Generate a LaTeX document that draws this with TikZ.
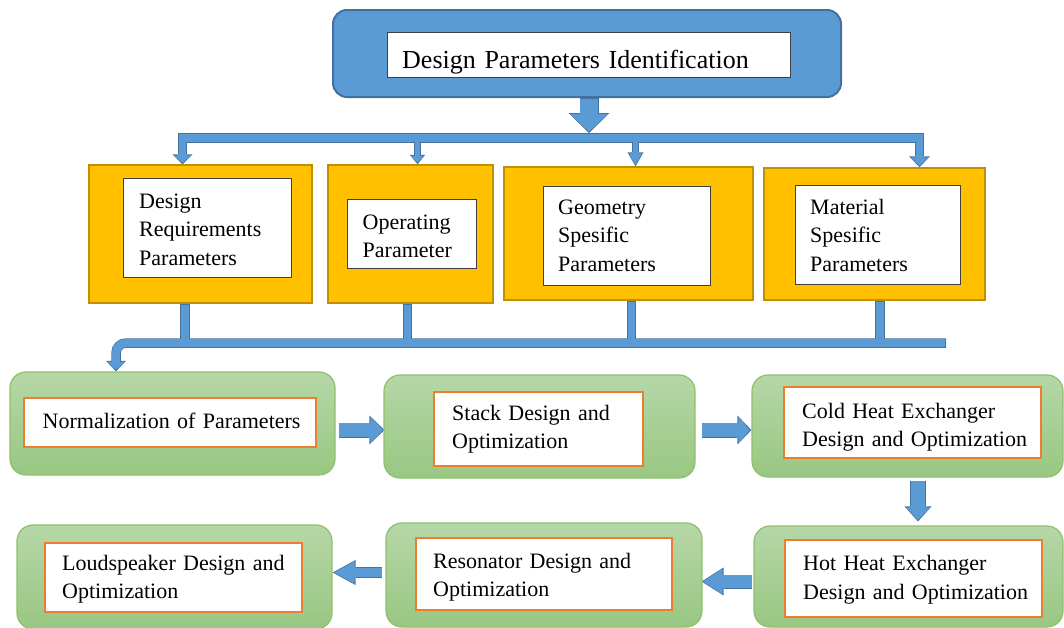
\documentclass[tikz,border=0pt]{standalone}
\usepackage{fontspec}
\setmainfont{Liberation Serif}
\usetikzlibrary{arrows.meta,calc}

\definecolor{bfill}{HTML}{5B9BD5}
\definecolor{bdr}{HTML}{41719C}
\definecolor{gold}{HTML}{FFC000}
\definecolor{golddk}{HTML}{C09000}
\definecolor{gtop}{HTML}{B6D7A8}
\definecolor{gbot}{HTML}{99C782}
\definecolor{gbdr}{HTML}{8CC16C}
\definecolor{obdr}{HTML}{ED7D31}

\newcommand\boxfont{\fontsize{22pt}{28.7pt}\selectfont}
\newcommand\titlefont{\fontsize{26pt}{30pt}\selectfont}

\pgfdeclarelayer{edge}
\pgfsetlayers{edge,main}

% block arrow: outline stroke on the lower layer, fill stroke on top
% #2 path, #3 shaft width, #4 head width, #5 head length
\newcommand\flow[5][]{%
  \pgfmathsetmacro\flowwi{#3-1.6}%
  \pgfmathsetmacro\flowhwi{#4-2.8}%
  \pgfmathsetmacro\flowhli{#5-2.5}%
  \begin{pgfonlayer}{edge}
    \draw[bdr, line width=#3pt, -{Triangle[width=#4pt,length=#5pt,line width=0pt]}, #1] #2;
  \end{pgfonlayer}
  \draw[bfill, line width=\flowwi pt, -{Triangle[width=\flowhwi pt,length=\flowhli pt,line width=0pt]}, shorten >=1.5pt, shorten <=0.8pt, #1] #2;
  \draw[bfill, line width=\flowwi pt, shorten >=\flowhli pt, shorten <=0.8pt, #1] #2;
}
% plain bar of the same look, without a head
\newcommand\flowbar[3][]{%
  \pgfmathsetmacro\flowwi{#3-1.6}%
  \begin{pgfonlayer}{edge}
    \draw[bdr, line width=#3pt, #1] #2;
  \end{pgfonlayer}
  \draw[bfill, line width=\flowwi pt, shorten >=0.8pt, shorten <=0.8pt, #1] #2;
}

\begin{document}
\begin{tikzpicture}[x=1pt,y=-1pt,
  topbox/.style={draw=bdr, fill=bfill, line width=2pt, rounded corners=14pt, inner sep=0pt},
  obox/.style={draw=golddk, fill=gold, line width=1.5pt, inner sep=0pt},
  wbox/.style={draw=black!75, fill=white, line width=1pt, inner sep=0pt},
  gbox/.style={draw=gbdr, top color=gtop, bottom color=gbot, line width=1.2pt, rounded corners=16pt, inner sep=0pt},
  lbox/.style={draw=obdr, fill=white, line width=2pt, inner sep=0pt},
  txt/.style={inner sep=0pt, anchor=base west, align=left, text width=360pt, font=\boxfont}]
\useasboundingbox (0,0) rectangle (1064,627);

% title
\node[topbox, minimum width=508pt, minimum height=87pt] (top) at (587,53.5) {};
\node[wbox, minimum width=403pt, minimum height=45pt] (topin) at (588.5,54.5) {};
\node[txt, font=\titlefont] (toptxt) at (402,68) {Design Parameters Identification};

% parameter groups
\node[obox, minimum width=223pt, minimum height=138pt] (req) at (200.5,234) {};
\node[wbox, minimum width=168pt, minimum height=99pt] (reqin) at (207,227.5) {};
\node[txt] (reqtxt) at (139,208) {Design\\Requirements\\Parameters};

\node[obox, minimum width=165pt, minimum height=138pt] (op) at (410.5,234) {};
\node[wbox, minimum width=129pt, minimum height=69pt] (opin) at (411.5,233.5) {};
\node[txt] (optxt) at (362.5,229) {Operating\\Parameter};

\node[obox, minimum width=249pt, minimum height=133pt] (geo) at (628.5,233.5) {};
\node[wbox, minimum width=167pt, minimum height=99pt] (geoin) at (626.5,235.5) {};
\node[txt] (geotxt) at (558,214) {Geometry\\Spesific\\Parameters};

\node[obox, minimum width=221pt, minimum height=132pt] (mat) at (874.5,234) {};
\node[wbox, minimum width=165pt, minimum height=99pt] (matin) at (877.5,234.5) {};
\node[txt] (mattxt) at (810,214) {Material\\Spesific\\Parameters};

% design steps
\node[gbox, minimum width=325pt, minimum height=103pt] (norm) at (172.5,423.5) {};
\node[lbox, minimum width=292pt, minimum height=49pt] (normin) at (170,422.5) {};
\node[txt] (normtxt) at (42.5,428) {Normalization of Parameters};

\node[gbox, minimum width=311pt, minimum height=103pt] (stack) at (539.5,426.5) {};
\node[lbox, minimum width=209pt, minimum height=74pt] (stackin) at (538.5,429) {};
\node[txt] (stacktxt) at (452,420) {Stack Design and\\Optimization};

\node[gbox, minimum width=311pt, minimum height=102pt] (cold) at (907.5,426) {};
\node[lbox, minimum width=257pt, minimum height=71pt] (coldin) at (912.5,422.5) {};
\node[txt] (coldtxt) at (802,418) {Cold Heat Exchanger\\Design and Optimization};

\node[gbox, minimum width=309pt, minimum height=101pt] (hot) at (908.5,576.5) {};
\node[lbox, minimum width=257pt, minimum height=77pt] (hotin) at (913.5,578.5) {};
\node[txt] (hottxt) at (803,570.5) {Hot Heat Exchanger\\Design and Optimization};

\node[gbox, minimum width=316pt, minimum height=104pt] (reso) at (544,575) {};
\node[lbox, minimum width=256pt, minimum height=72pt] (resoin) at (544,574) {};
\node[txt] (resotxt) at (433,568) {Resonator Design and\\Optimization};

\node[gbox, minimum width=315pt, minimum height=104pt] (loud) at (174.5,577) {};
\node[lbox, minimum width=257pt, minimum height=69pt] (loudin) at (173.5,577.5) {};
\node[txt] (loudtxt) at (62,570) {Loudspeaker Design and\\Optimization};

% junction points of the distribution bars
\coordinate (hub) at (589,133);
\coordinate (busL) at (178,138);
\coordinate (busR) at (924,138);
\coordinate (j1) at (182.5,138);
\coordinate (j2) at (417.5,138);
\coordinate (j3) at (635.5,138);
\coordinate (j4) at (919.5,138);
\coordinate (lbR) at (946,343);
\coordinate (elbow) at (116,343);
\coordinate (s1) at (185,343);
\coordinate (s2) at (407.5,343);
\coordinate (s3) at (631.5,343);
\coordinate (s4) at (880,343);
\coordinate (row1) at (0,430);
\coordinate (row2a) at (0,581.5);
\coordinate (row2b) at (0,572.5);
\coordinate (col3) at (918,0);

% title to parameter groups
\flow{(top.south -| hub) -- (hub)}{19}{41}{20}
\flowbar{(busL) -- (busR)}{10}
\flow{(j1) -- (j1 |- req.north)}{9}{20}{10}
\flow{(j2) -- (j2 |- op.north)}{7.5}{15.5}{9.5}
\flow{(j3) -- (j3 |- geo.north)}{7.5}{16}{14}
\flow{(j4) -- (j4 |- mat.north)}{9.5}{21}{11}

% parameter groups to normalization
\flowbar{(req.south -| s1) -- (s1)}{10}
\flowbar{(op.south -| s2) -- (s2)}{9.5}
\flowbar{(geo.south -| s3) -- (s3)}{9.5}
\flowbar{(mat.south -| s4) -- (s4)}{10}
\flow[rounded corners=10pt]{(lbR) -- (elbow) -- (elbow |- norm.north)}{9.5}{20}{10.5}

% design chain
\flow{($(norm.east |- row1)+(3,0)$) -- ($(stack.west |- row1)+(1,0)$)}{15}{29}{15}
\flow{($(stack.east |- row1)+(6,0)$) -- (cold.west |- row1)}{15}{29}{14}
\flow{($(cold.south -| col3)+(0,3)$) -- ($(hot.north -| col3)+(0,-4)$)}{16}{27}{15}
\flow{($(hot.west |- row2a)+(-1,0)$) -- ($(reso.east |- row2a)+(-1,0)$)}{14}{28}{22}
\flow{($(reso.west |- row2b)+(-3,0)$) -- (loud.east |- row2b)}{11.5}{25}{23}
\end{tikzpicture}
\end{document}
